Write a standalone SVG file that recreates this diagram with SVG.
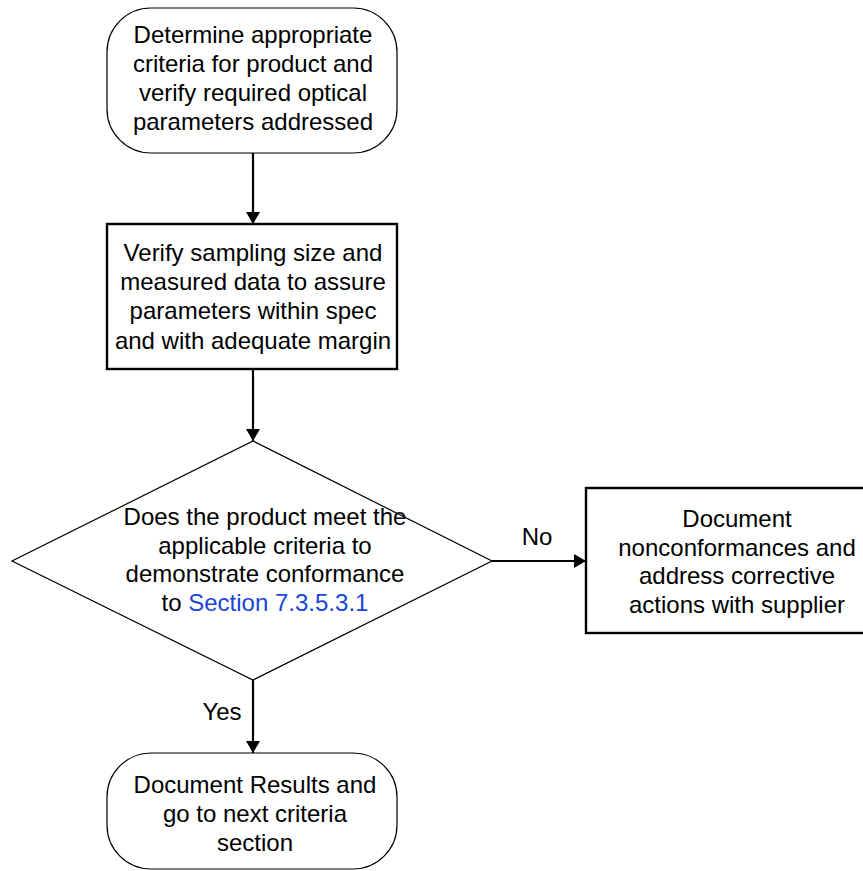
<svg xmlns="http://www.w3.org/2000/svg" width="863" height="871" viewBox="0 0 863 871">
<style>
text{font-family:"Liberation Sans",Arial,sans-serif;font-size:24px;fill:#000;text-anchor:middle}
.thin{fill:#fff;stroke:#000;stroke-width:1.2}
.thick{fill:#fff;stroke:#000;stroke-width:2.4}
.conn{fill:none;stroke:#000;stroke-width:2.2}
.link{fill:#1a45d6}
</style>
<defs>
<marker id="arr" viewBox="0 0 12 14" refX="12" refY="7" markerWidth="12" markerHeight="14" markerUnits="userSpaceOnUse" orient="auto">
<path d="M0,0 L12,7 L0,14 Z" fill="#000"/>
</marker>
</defs>
<rect width="863" height="871" fill="#fff"/>
<g id="connectors">
<line class="conn" x1="253" y1="153" x2="253" y2="224" marker-end="url(#arr)"/>
<line class="conn" x1="253" y1="369" x2="253" y2="441" marker-end="url(#arr)"/>
<line class="conn" x1="492" y1="561" x2="586" y2="561" marker-end="url(#arr)"/>
<line class="conn" x1="253" y1="680" x2="253" y2="753" marker-end="url(#arr)"/>
<text x="537" y="545">No</text>
<text x="222" y="720">Yes</text>
</g>
<g id="start">
<rect class="thin" x="107" y="8" width="290" height="145" rx="44" ry="44"/>
<text x="253" y="43">Determine appropriate</text>
<text x="253" y="72">criteria for product and</text>
<text x="253" y="101">verify required optical</text>
<text x="253" y="130">parameters addressed</text>
</g>
<g id="verify">
<rect class="thick" x="107" y="224" width="290" height="145"/>
<text x="253" y="261">Verify sampling size and</text>
<text x="253" y="290">measured data to assure</text>
<text x="253" y="319">parameters within spec</text>
<text x="253" y="349">and with adequate margin</text>
</g>
<g id="decision">
<polygon class="thin" points="253,441 492,561 253,680 12,561"/>
<text x="265" y="525">Does the product meet the</text>
<text x="265" y="554">applicable criteria to</text>
<text x="265" y="582">demonstrate conformance</text>
<text x="265" y="611">to <tspan class="link">Section 7.3.5.3.1</tspan></text>
</g>
<g id="nonconform">
<rect class="thick" x="586" y="488" width="302" height="145"/>
<text x="737" y="527">Document</text>
<text x="737" y="556">nonconformances and</text>
<text x="737" y="584">address corrective</text>
<text x="737" y="613">actions with supplier</text>
</g>
<g id="end">
<rect class="thin" x="107" y="753" width="290" height="116" rx="44" ry="44"/>
<text x="255" y="793">Document Results and</text>
<text x="255" y="822">go to next criteria</text>
<text x="255" y="851">section</text>
</g>
</svg>
